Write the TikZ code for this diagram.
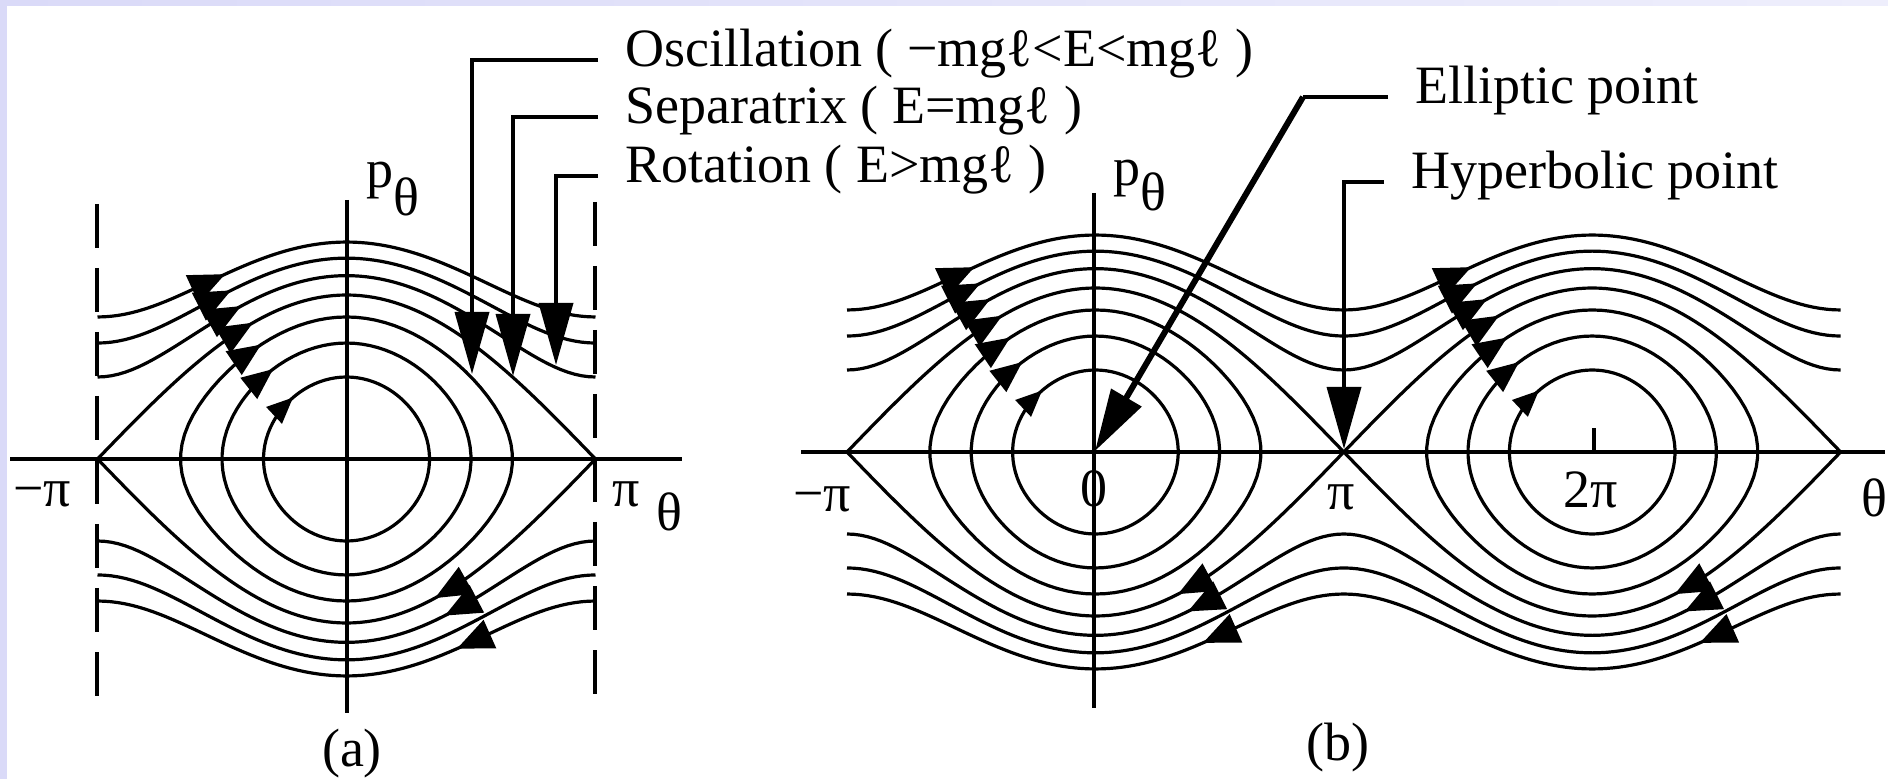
\documentclass[tikz,border=0pt]{standalone}
\usepackage{fontspec}
\setmainfont{Liberation Serif}
\newfontfamily\figfont{Liberation Serif}
\usetikzlibrary{arrows.meta,calc}
\definecolor{lav}{RGB}{218,218,248}
\definecolor{lavlight}{RGB}{238,238,252}

% filled arrowhead: #1 apex, #2 point behind on curve, #3 length, #4 half width
\newcommand{\flowhead}[4]{%
  \path ($(#1)!#3!(#2)$) coordinate (fc);
  \fill (#1) -- ($(fc)!#4!90:(#1)$) -- ($(fc)!#4!-90:(#1)$) -- cycle;
}
% #1 xc, #2 px/deg, #3 y0, #4 sign (-1 upper, +1 lower), #5 E, #6 theta(deg), #7 length, #8 half width
\newcommand{\flowtri}[8]{%
  \path ({#1+#2*(#6)},{#3+(#4)*rotp(#6,#5)}) coordinate (fa)
        ({#1+#2*(#6+(#4)*4)},{#3+(#4)*rotp(#6+(#4)*4,#5)}) coordinate (fb);
  \flowhead{fa}{fb}{#7}{#8}
}
\newcommand{\arrA}[5]{\flowtri{346.5}{1.3833}{459}{#1}{#2}{#3}{#4}{#5}}
\newcommand{\arrB}[5]{\flowtri{1095.4}{1.38}{452}{#1}{#2}{#3}{#4}{#5}}

\begin{document}
\begin{tikzpicture}[x=0.5pt,y=-0.5pt,
  declare function={rotp(\t,\e)=82*sqrt(max(0,2*(\e+cos(\t))));},
  phcurve/.style={line width=1.6pt, line join=round},
  axline/.style={line width=2.4pt},
  lbl/.style={inner sep=0pt, font=\figfont\fontsize{27pt}{32pt}\selectfont},
  lbltext/.style={font=\figfont\fontsize{27pt}{32pt}\selectfont, inner ysep=0pt, inner xsep=13.5pt, text height=0.63em, text depth=0pt, anchor=west},
  leadline/.style={line width=1.8pt, -{Triangle[length=31pt,width=17pt]}},
]
% background
\fill[white] (0,0) rectangle (1888,779);
\shade[left color=lav, right color=lavlight] (0,0) rectangle (1888,6);
\fill[lav] (0,0) rectangle (6.5,779);
\useasboundingbox (0,0) rectangle (1888,779);

% ================= panel (a) =================
\foreach \E in {1.5,2,2.5} {
  \draw[phcurve] plot[domain=-180:180,samples=73] ({346.5+1.3833*\x},{459-rotp(\x,\E)});
  \draw[phcurve] plot[domain=-180:180,samples=73] ({346.5+1.3833*\x},{459+rotp(\x,\E)});
}
\draw[phcurve] plot[domain=-180:180,samples=73] ({346.5+1.3833*\x},{459-164*cos(\x/2)});
\draw[phcurve] plot[domain=-180:180,samples=73] ({346.5+1.3833*\x},{459+164*cos(\x/2)});
\foreach \k in {0.5,0.7071,0.866}
  \draw[phcurve] plot[domain=0:360,samples=91] ({346.5+2.7667*asin(\k*sin(\x))},{459-164*\k*cos(\x)}) -- cycle;

% axes (a)
\draw[axline] (10,459) -- (682,459);
\draw[line width=1.9pt] (347,200) -- (347,713);
\draw[line width=1.9pt, dash pattern=on 22pt off 10pt] (97,204) -- (97,700);
\draw[line width=1.9pt, dash pattern=on 22pt off 10pt] (595,202) -- (595,700);

% flow arrows (a)
\arrA{-1}{2.5}{-87.8}{18pt}{7.8pt}
\arrA{-1}{2}{-83.5}{18pt}{7.8pt}
\arrA{-1}{1.5}{-76.3}{18pt}{7.8pt}
\arrA{-1}{1}{-67.6}{17.5pt}{7.5pt}
\arrA{-1}{0.5}{-61.8}{16.5pt}{7.2pt}
\arrA{-1}{0}{-53.1}{15.5pt}{6.8pt}
\arrA{-1}{-0.5}{-38.7}{13pt}{5.8pt}
\arrA{1}{1}{64}{18pt}{7.8pt}
\arrA{1}{1.5}{71.2}{18pt}{7.8pt}
\arrA{1}{2.5}{79.9}{18pt}{7.8pt}

% labels (a)
\node[lbl, anchor=base west] (pa) at (366,188) {p};
\node[lbl, anchor=base west] (tha) at (393,216) {θ};
\node[lbl, anchor=base west] (mpia) at (13,507) {−π};
\node[lbl, anchor=base west] (pia) at (612,507) {π};
\node[lbl, anchor=base west] (thax) at (656,531) {θ};
\node[lbl, anchor=base] (capa) at (352,766) {(a)};

% ================= panel (b) =================
\foreach \E in {1.5,2,2.5} {
  \draw[phcurve] plot[domain=-180:540,samples=145] ({1095.4+1.38*\x},{452-rotp(\x,\E)});
  \draw[phcurve] plot[domain=-180:540,samples=145] ({1095.4+1.38*\x},{452+rotp(\x,\E)});
}
\draw[phcurve] plot[domain=-180:540,samples=145] ({1095.4+1.38*\x},{452-164*abs(cos(\x/2))});
\draw[phcurve] plot[domain=-180:540,samples=145] ({1095.4+1.38*\x},{452+164*abs(cos(\x/2))});
\foreach \k in {0.5,0.7071,0.866} {
  \draw[phcurve] plot[domain=0:360,samples=91] ({1095.4+2.76*asin(\k*sin(\x))},{452-164*\k*cos(\x)}) -- cycle;
  \draw[phcurve] plot[domain=0:360,samples=91] ({1592.2+2.76*asin(\k*sin(\x))},{452-164*\k*cos(\x)}) -- cycle;
}

% axes (b)
\draw[axline] (801,452) -- (1885,452);
\draw[axline] (1094,193) -- (1094,708);
\draw[line width=2pt] (1594,452) -- (1594,428);

% flow arrows (b)
\foreach \c in {0,360} {
  \arrB{-1}{2.5}{-87.8+\c}{18pt}{7.8pt}
  \arrB{-1}{2}{-83.5+\c}{18pt}{7.8pt}
  \arrB{-1}{1.5}{-76.3+\c}{18pt}{7.8pt}
  \arrB{-1}{1}{-67.6+\c}{17.5pt}{7.5pt}
  \arrB{-1}{0.5}{-61.8+\c}{16.5pt}{7.2pt}
  \arrB{-1}{0}{-53.1+\c}{15.5pt}{6.8pt}
  \arrB{-1}{-0.5}{-38.7+\c}{13pt}{5.8pt}
  \arrB{1}{1}{59.9+\c}{18pt}{7.8pt}
  \arrB{1}{1.5}{67.1+\c}{18pt}{7.8pt}
  \arrB{1}{2.5}{78+\c}{18pt}{7.8pt}
}

% labels (b)
\node[lbl, anchor=base west] (pb) at (1113,186) {p};
\node[lbl, anchor=base west] (thb) at (1140,211) {θ};
\node[lbl, anchor=base west] (mpib) at (793,512) {−π};
\node[lbl, anchor=base west] (zerob) at (1080,507) {0};
\node[lbl, anchor=base west] (pib) at (1327,510) {π};
\node[lbl, anchor=base west] (tpib) at (1563,508) {2π};
\node[lbl, anchor=base west] (thbx) at (1861,517) {θ};
\node[lbl, anchor=base] (capb) at (1338,760) {(b)};

% ================= callouts =================
\coordinate (oscTip) at (472,374);
\coordinate (sepTip) at (513,376);
\coordinate (rotTip) at (556,365);
\coordinate (ellBend) at (1303,97);
\coordinate (ellTip) at (1095,451);
\coordinate (hypTip) at (1344,449);

\node[lbltext] (osc) at (598,60) {Oscillation ( −mgℓ<E<mgℓ )};
\node[lbltext] (sepl) at (598,117) {Separatrix ( E=mgℓ )};
\node[lbltext] (rotl) at (598,176) {Rotation ( E>mgℓ )};
\node[lbltext] (ell) at (1388,97) {Elliptic point};
\node[lbltext] (hyp) at (1384,182) {Hyperbolic point};

\draw[leadline] (osc.west) -| (oscTip);
\draw[leadline] (sepl.west) -| (sepTip);
\draw[leadline] (rotl.west) -| (rotTip);
\draw[line width=1.8pt] (ell.west) -- (ellBend);
\draw[leadline, line width=3pt] (ellBend) -- (ellTip);
\draw[leadline] (hyp.west) -| (hypTip);
\end{tikzpicture}
\end{document}
